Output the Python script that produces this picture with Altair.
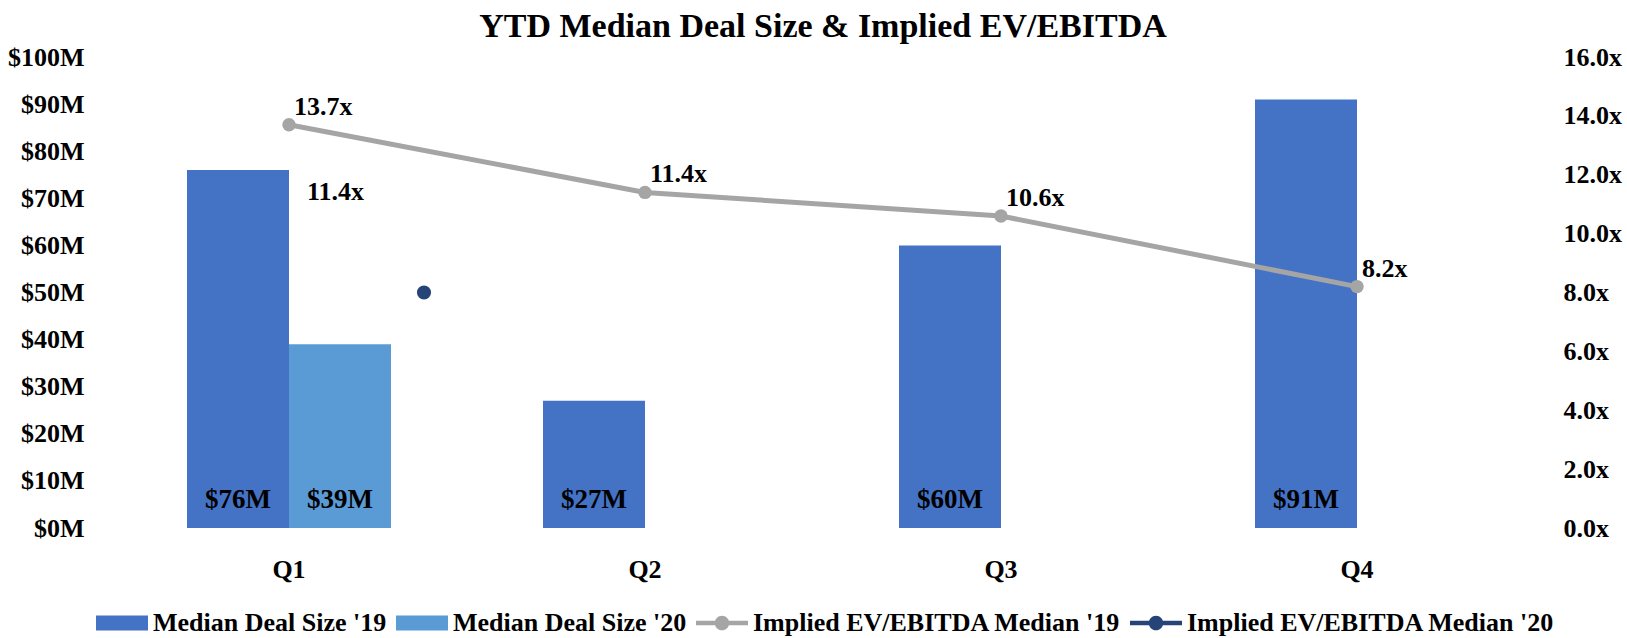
import altair as alt
import pandas as pd

quarters = ["Q1", "Q2", "Q3", "Q4"]
deal_19 = [76, 27, 60, 91]
deal_20_quarters = ["Q1"]
deal_20 = [39]
ev_19 = [13.7, 11.4, 10.6, 8.2]
ev_20_quarters = ["Q1"]
ev_20 = [8.0]
ev_20_label_value = [11.4]

series_names = ["Median Deal Size '19", "Median Deal Size '20",
                "Implied EV/EBITDA Median '19", "Implied EV/EBITDA Median '20"]
series_colors = ["#4472C4", "#5B9BD5", "#A5A5A5", "#264478"]
rect_path = "M-1,-0.29L1,-0.29L1,0.29L-1,0.29Z"
line_dot_path = ("M-1,-0.09L1,-0.09L1,0.09L-1,0.09Z "
                 "M0.28,0A0.28,0.28 0 1,1 -0.28,0A0.28,0.28 0 1,1 0.28,0Z")
series_shapes = [rect_path, rect_path, line_dot_path, line_dot_path]

FONT = "Liberation Serif"
FS = 26

bars_df = pd.DataFrame(
    {"quarter": quarters + deal_20_quarters,
     "value": deal_19 + deal_20,
     "slot": ["19"] * len(deal_19) + ["20"] * len(deal_20),
     "series": [series_names[0]] * len(deal_19) + [series_names[1]] * len(deal_20)}
)
ev19_df = pd.DataFrame({"quarter": quarters, "value": ev_19,
                        "series": [series_names[2]] * len(ev_19)})
ev20_df = pd.DataFrame({"quarter": ev_20_quarters, "value": ev_20,
                        "label_value": ev_20_label_value,
                        "series": [series_names[3]] * len(ev_20)})

legend = alt.Legend(
    title=None, orient="none", direction="horizontal",
    legendX=-15, legendY=540,
    labelFont=FONT, labelFontSize=FS, labelFontWeight="bold", labelColor="#000000",
    labelLimit=0, symbolSize=2704, symbolStrokeWidth=0, labelOffset=5,
    columnPadding=9, symbolOpacity=1,
)
color_scale = alt.Scale(domain=series_names, range=series_colors)
shape_scale = alt.Scale(domain=series_names, range=series_shapes)
color_enc = alt.Color("series:N", scale=color_scale, legend=legend)
shape_enc = alt.Shape("series:N", scale=shape_scale, legend=legend)

x_enc = alt.X("quarter:N", sort=quarters,
              scale=alt.Scale(domain=quarters, paddingInner=0.427, paddingOuter=0.2135),
              axis=alt.Axis(title=None, labelAngle=0, ticks=False, tickSize=0, domain=False,
                            grid=False, labelPadding=28, labelFont=FONT, labelFontSize=FS,
                            labelFontWeight="bold", labelColor="#000000"))

y_left = alt.Y("value:Q", scale=alt.Scale(domain=[0, 100], nice=False),
               axis=alt.Axis(title=None, values=list(range(0, 101, 10)), grid=False,
                             ticks=False, tickSize=0, domain=False, labelPadding=27,
                             labelExpr="'$' + datum.value + 'M'",
                             labelFont=FONT, labelFontSize=FS, labelFontWeight="bold",
                             labelColor="#000000"))

bars = alt.Chart(bars_df).mark_bar(opacity=1).encode(
    x=x_enc,
    xOffset=alt.XOffset("slot:N", scale=alt.Scale(domain=["19", "20"], paddingInner=0, paddingOuter=0)),
    y=y_left,
    color=color_enc,
)
bar_labels = alt.Chart(bars_df).transform_calculate(
    zero="0", txt="'$' + datum.value + 'M'"
).mark_text(font=FONT, fontSize=27, fontWeight="bold", color="#000000",
            baseline="middle", dy=-28).encode(
    x=alt.X("quarter:N", sort=quarters),
    xOffset=alt.XOffset("slot:N"),
    y=alt.Y("zero:Q"),
    text="txt:N",
)
left_layer = alt.layer(bars, bar_labels)

y_right = alt.Y("value:Q", scale=alt.Scale(domain=[0, 16], nice=False),
                axis=alt.Axis(title=None, orient="right", values=list(range(0, 17, 2)), grid=False,
                              ticks=False, tickSize=0, domain=False, labelPadding=28,
                              labelExpr="format(datum.value, '.1f') + 'x'",
                              labelFont=FONT, labelFontSize=FS, labelFontWeight="bold",
                              labelColor="#000000"))

line19 = alt.Chart(ev19_df).mark_line(strokeWidth=5).encode(
    x=alt.X("quarter:N", sort=quarters), y=y_right, color=color_enc)
pts19 = alt.Chart(ev19_df).mark_point(filled=True, size=180, opacity=1).encode(
    x=alt.X("quarter:N", sort=quarters), y=alt.Y("value:Q"), color=color_enc,
    shape=alt.value("circle"))
lab19 = alt.Chart(ev19_df).transform_calculate(
    txt="format(datum.value, '.1f') + 'x'"
).mark_text(font=FONT, fontSize=FS, fontWeight="bold", color="#000000",
            align="left", baseline="middle", dx=5, dy=-18).encode(
    x=alt.X("quarter:N", sort=quarters), y=alt.Y("value:Q"), text="txt:N")
pt20 = alt.Chart(ev20_df).mark_point(filled=True, size=200, opacity=1, xOffset=135).encode(
    x=alt.X("quarter:N", sort=quarters), y=alt.Y("value:Q"), color=color_enc,
    shape=alt.value("circle"))
legend_keys = alt.Chart(ev20_df).mark_point(filled=True, opacity=0, size=1).encode(
    x=alt.X("quarter:N", sort=quarters), y=alt.Y("value:Q"), color=color_enc,
    shape=shape_enc)
lab20 = alt.Chart(ev20_df).transform_calculate(
    txt="format(datum.label_value, '.1f') + 'x'"
).mark_text(font=FONT, fontSize=FS, fontWeight="bold", color="#000000",
            align="left", baseline="middle", dx=18).encode(
    x=alt.X("quarter:N", sort=quarters), y=alt.Y("label_value:Q"), text="txt:N")
right_layer = alt.layer(line19, pts19, lab19, legend_keys, pt20, lab20)

chart = alt.layer(left_layer, right_layer).resolve_scale(y="independent").properties(
    width=1424, height=471,
    padding={"left": 111, "top": 57, "right": 92, "bottom": 110},
    autosize=alt.AutoSizeParams(type="none"),
    view=alt.ViewBackground(strokeWidth=0, strokeOpacity=0),
    title=alt.Title("YTD Median Deal Size & Implied EV/EBITDA", font=FONT, fontSize=34,
                    fontWeight="bold", color="#000000", anchor="middle", offset=0),
).configure_view(stroke="transparent", strokeWidth=0, strokeOpacity=0).configure(background="white")

chart.save("out.html", embed_options={"renderer": "svg", "actions": False})
